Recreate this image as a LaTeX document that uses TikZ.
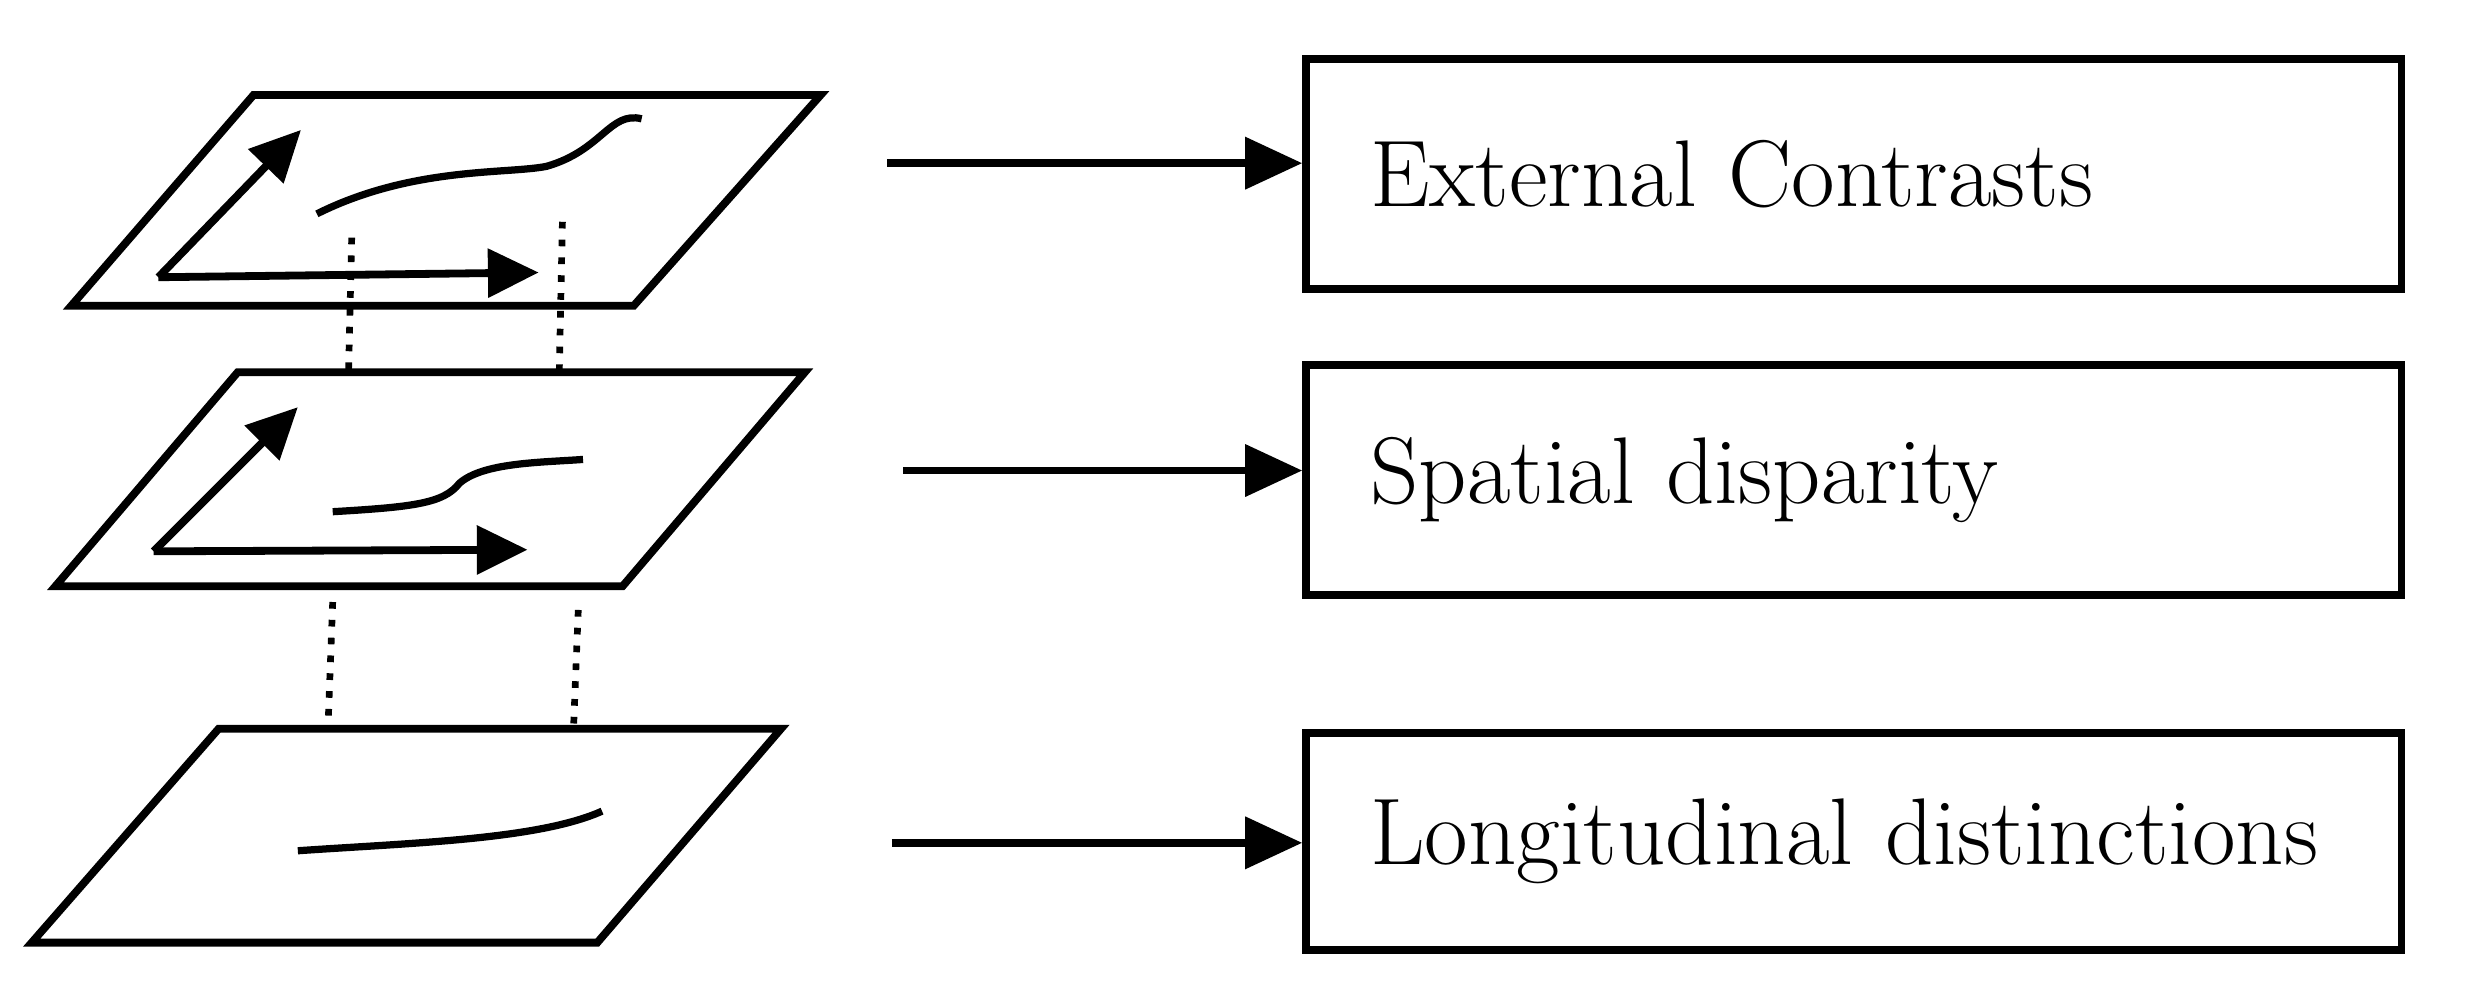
\documentclass[tikz,border=0pt]{standalone}
\usetikzlibrary{positioning,arrows.meta,calc}
\tikzset{
    Plano/.style={draw,line width=1.4pt},
    Caja/.style={draw,line width=1.4pt,rectangle,minimum width=6.91cm,minimum height=1.45cm,anchor=north west,inner sep=4mm,font=\fontsize{17}{20}\selectfont},
    Flecha/.style={line width=1.4pt,-{Triangle[length=3.6mm,width=3.2mm]}},
    Eje/.style={line width=1.4pt,-{Triangle[length=3.2mm,width=3mm]}},
    Curva/.style={line width=1.3pt},
    Enlace/.style={line width=1.2pt,dotted}
}
\begin{document}
\begin{tikzpicture}[x=0.01cm,y=-0.01cm]
\useasboundingbox (0,0) rectangle (1566,625);
% planes
\draw[Plano] (160,60) -- (518,60) -- (400,193) -- (45,193) -- cycle;
\draw[Plano] (150,235) -- (508,235) -- (393,370) -- (35,370) -- cycle;
\draw[Plano] (138,460) -- (493,460) -- (377,595) -- (20,595) -- cycle;
% axes
\coordinate (o1) at (100,175);
\draw[Eje] (o1) -- (190,82);
\draw[Eje] (o1) -- (340,172);
\coordinate (o2) at (97,348);
\draw[Eje] (o2) -- (188,257);
\draw[Eje] (o2) -- (333,347);
% curves
\draw[Curva] (200,135) .. controls (260,105) and (320,110) .. (345,105) .. controls (380,95) and (385,70) .. (405,75);
\draw[Curva] (210,323) .. controls (260,320) and (280,318) .. (290,305) .. controls (305,292) and (340,292) .. (368,290);
\draw[Curva] (188,537) .. controls (260,532) and (340,530) .. (380,512);
% dotted links
\draw[Enlace] (222,150) -- (220,235);
\draw[Enlace] (355,140) -- (353,235);
\draw[Enlace] (210,380) -- (207,460);
\draw[Enlace] (365,385) -- (362,460);
% boxes
\node[Caja,text width=6.1cm,align=left] (ext) at (822,35) {External Contrasts};
\node[Caja,text width=6.1cm,align=left] (spa) at (822,228) {Spatial disparity};
\node[Caja,text width=6.1cm,align=left,minimum height=1.37cm] (lon) at (822,460) {Longitudinal distinctions};
\coordinate (a1) at (560,103);
\coordinate (a2) at (570,297);
\coordinate (a3) at (563,532);
\draw[Flecha] (a1) -- (a1 -| ext.west);
\draw[Flecha] (a2) -- (a2 -| spa.west);
\draw[Flecha] (a3) -- (a3 -| lon.west);
\end{tikzpicture}
\end{document}
